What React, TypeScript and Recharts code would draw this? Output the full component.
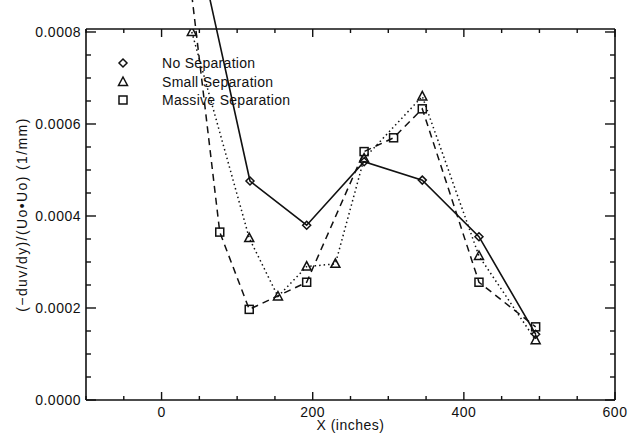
import React from "react";
import { LineChart, Line, XAxis, YAxis, Legend } from "recharts";

// positions along the tunnel (inches) and gradient values (1/mm)
const X_NO = [40, 117, 192, 268, 345, 420, 495];
const Y_NO = [0.00105, 0.000476, 0.00038, 0.000518, 0.000478, 0.000355, 0.000143];

const X_SMALL = [40, 116, 154, 192, 230, 268, 345, 420, 495];
const Y_SMALL = [0.0008, 0.000352, 0.000225, 0.00029, 0.000296, 0.000525, 0.00066, 0.000313, 0.00013];

const X_MASSIVE = [40, 77, 116, 192, 268, 307, 345, 420, 495];
const Y_MASSIVE = [0.00088, 0.000365, 0.000197, 0.000256, 0.00054, 0.00057, 0.000633, 0.000256, 0.000159];

const X_TICKS = [-100, -50, 0, 50, 100, 150, 200, 250, 300, 350, 400, 450, 500, 550, 600];
const X_LABELS = [0, 200, 400, 600];
const Y_TICKS = [
  0, 0.00005, 0.0001, 0.00015, 0.0002, 0.00025, 0.0003, 0.00035, 0.0004,
  0.00045, 0.0005, 0.00055, 0.0006, 0.00065, 0.0007, 0.00075, 0.0008,
];
const Y_LABELS = [0, 0.0002, 0.0004, 0.0006, 0.0008];

const SERIES_NAMES = ["No Separation", "Small Separation", "Massive Separation"];

const toRows = (xs: number[], ys: number[]) => xs.map((x, i) => ({ x, y: ys[i] }));
const NO_DATA = toRows(X_NO, Y_NO);
const SMALL_DATA = toRows(X_SMALL, Y_SMALL);
const MASSIVE_DATA = toRows(X_MASSIVE, Y_MASSIVE);

const FONT = "'Liberation Sans', Arial, sans-serif";
const INK = "#111";
const AXIS = { stroke: INK, strokeWidth: 1.6 };

type Kind = "diamond" | "triangle" | "square";

function Marker({ kind, cx, cy }: { kind: Kind; cx: number; cy: number }) {
  if (cx == null || cy == null) return null;
  const common = { fill: "none", stroke: INK, strokeWidth: 1.5 };
  if (kind === "diamond") {
    return <polygon points={`${cx},${cy - 4} ${cx + 4},${cy} ${cx},${cy + 4} ${cx - 4},${cy}`} {...common} />;
  }
  if (kind === "triangle") {
    return <polygon points={`${cx},${cy - 5} ${cx + 4.5},${cy + 3.5} ${cx - 4.5},${cy + 3.5}`} {...common} />;
  }
  return <rect x={cx - 4} y={cy - 4} width={8} height={8} {...common} />;
}

const KINDS: Kind[] = ["diamond", "triangle", "square"];

function LegendBox() {
  return (
    <div style={{ fontFamily: FONT, fontSize: 14, color: INK }}>
      {SERIES_NAMES.map((name, i) => (
        <div key={name} style={{ display: "flex", alignItems: "center", height: 18.5 }}>
          <svg width={16} height={16} style={{ overflow: "visible" }}>
            <Marker kind={KINDS[i]} cx={8} cy={8} />
          </svg>
          <span style={{ marginLeft: 31, letterSpacing: 0.3 }}>{name}</span>
        </div>
      ))}
    </div>
  );
}

const isXLabel = (v: number) => X_LABELS.includes(v);
const yLabelOf = (v: number) => {
  const hit = Y_LABELS.find((l) => Math.abs(l - v) < 1e-9);
  return hit === undefined ? null : hit.toFixed(4);
};

function BottomTick(props: any) {
  const { x, y, payload } = props;
  const major = isXLabel(payload.value);
  return (
    <g>
      <line x1={x} x2={x} y1={y} y2={y - (major ? 8 : 4)} stroke={INK} strokeWidth={1.4} />
      {major && (
        <text x={x} y={y + 17} textAnchor="middle" fontFamily={FONT} fontSize={14} fill={INK} letterSpacing={0.5}>
          {payload.value}
        </text>
      )}
    </g>
  );
}

function TopTick(props: any) {
  const { x, y, payload } = props;
  const major = isXLabel(payload.value);
  return <line x1={x} x2={x} y1={y} y2={y + (major ? 8 : 4)} stroke={INK} strokeWidth={1.4} />;
}

function LeftTick(props: any) {
  const { x, y, payload } = props;
  const label = yLabelOf(payload.value);
  return (
    <g>
      <line x1={x} x2={x + (label ? 10 : 5)} y1={y} y2={y} stroke={INK} strokeWidth={1.4} />
      {label && (
        <text x={x - 5} y={y + 5} textAnchor="end" fontFamily={FONT} fontSize={14} fill={INK} letterSpacing={0.5}>
          {label}
        </text>
      )}
    </g>
  );
}

function RightTick(props: any) {
  const { x, y, payload } = props;
  const label = yLabelOf(payload.value);
  return <line x1={x} x2={x - (label ? 10 : 5)} y1={y} y2={y} stroke={INK} strokeWidth={1.4} />;
}

const xAxisCommon = {
  type: "number" as const,
  dataKey: "x",
  domain: [-100, 600] as [number, number],
  allowDataOverflow: true,
  ticks: X_TICKS,
  interval: 0 as const,
  tickSize: 0,
  tickMargin: 0,
  tickLine: false,
  axisLine: AXIS,
};

const yAxisCommon = {
  type: "number" as const,
  dataKey: "y",
  domain: [0, 0.0008065] as [number, number],
  allowDataOverflow: true,
  ticks: Y_TICKS,
  interval: 0 as const,
  tickSize: 0,
  tickMargin: 0,
  tickLine: false,
  axisLine: AXIS,
};

export default function App() {
  return (
    <div style={{ position: "absolute", left: 0, top: 0, background: "#fff" }}>
      <style>{`.noclip g, .noclip path { clip-path: none !important; }`}</style>
      <LineChart width={636} height={439} margin={{ top: 28, right: 20, bottom: 0, left: 6 }}>
        <XAxis
          xAxisId="b"
          {...xAxisCommon}
          tick={BottomTick}
          height={39}
          label={{
            content: (p: any) => {
              const vb = p.viewBox;
              return (
                <text x={vb.x + vb.width / 2} y={vb.y + 30} textAnchor="middle" fontFamily={FONT} fontSize={14} fill={INK} letterSpacing={0.5}>
                  X (inches)
                </text>
              );
            },
          }}
        />
        <XAxis xAxisId="t" orientation="top" {...xAxisCommon} tick={TopTick} height={1} />
        <YAxis
          yAxisId="l"
          {...yAxisCommon}
          tick={LeftTick}
          width={80}
          label={{
            content: (p: any) => {
              const vb = p.viewBox;
              const cx = vb.x + 16;
              const cy = vb.y + vb.height / 2;
              return (
                <text
                  x={cx}
                  y={cy}
                  transform={`rotate(-90 ${cx} ${cy})`}
                  textAnchor="middle"
                  dominantBaseline="central"
                  fontFamily={FONT}
                  fontSize={14}
                  fill={INK}
                  letterSpacing={1.4}
                >
                  (−duv/dy)/(Uo•Uo) (1/mm)
                </text>
              );
            },
          }}
        />
        <YAxis yAxisId="r" orientation="right" {...yAxisCommon} tick={RightTick} width={1} />
        <Legend
          layout="vertical"
          align="center"
          verticalAlign="middle"
          content={() => <LegendBox />}
          wrapperStyle={{ position: "absolute", left: 115, top: 54, width: "auto", height: "auto" }}
        />
        <Line
          className="noclip"
          xAxisId="b"
          yAxisId="l"
          data={NO_DATA}
          dataKey="y"
          name={SERIES_NAMES[0]}
          stroke={INK}
          strokeWidth={1.6}
          isAnimationActive={false}
          activeDot={false}
          dot={(p: any) => <Marker key={p.index} kind="diamond" cx={p.cx} cy={p.cy} />}
        />
        <Line
          className="noclip"
          xAxisId="t"
          yAxisId="r"
          data={SMALL_DATA}
          dataKey="y"
          name={SERIES_NAMES[1]}
          stroke={INK}
          strokeWidth={1.5}
          strokeDasharray="1.5 3"
          isAnimationActive={false}
          activeDot={false}
          dot={(p: any) => <Marker key={p.index} kind="triangle" cx={p.cx} cy={p.cy} />}
        />
        <Line
          className="noclip"
          xAxisId="b"
          yAxisId="r"
          data={MASSIVE_DATA}
          dataKey="y"
          name={SERIES_NAMES[2]}
          stroke={INK}
          strokeWidth={1.5}
          strokeDasharray="7 5"
          isAnimationActive={false}
          activeDot={false}
          dot={(p: any) => <Marker key={p.index} kind="square" cx={p.cx} cy={p.cy} />}
        />
      </LineChart>
    </div>
  );
}
